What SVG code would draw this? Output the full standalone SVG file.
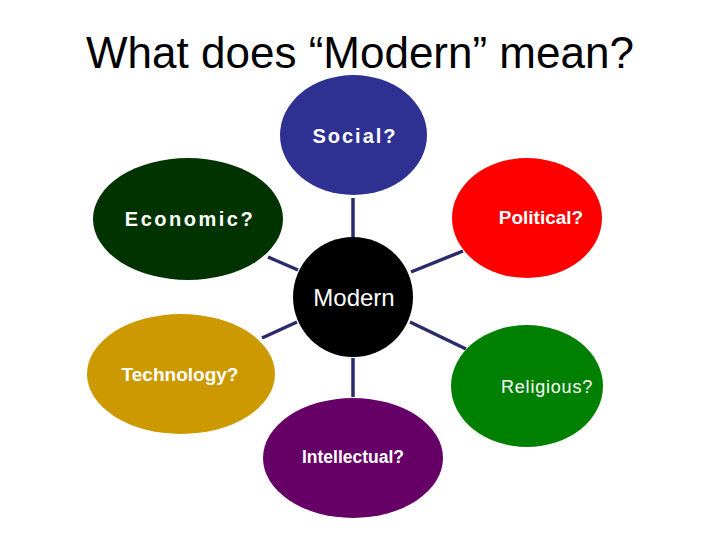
<svg xmlns="http://www.w3.org/2000/svg" width="720" height="540" viewBox="0 0 720 540">
<style>
text{font-family:"Liberation Sans",Arial,sans-serif;fill:#fff;text-anchor:middle}
.title{fill:#000;font-size:44px}
.b{font-weight:bold}
.conn line{stroke:#2B2B6B;stroke-width:3.5;stroke-linecap:butt}
</style>
<rect width="720" height="540" fill="#fff"/>
<text class="title" x="360" y="68">What does “Modern” mean?</text>
<g id="connectors" class="conn">
<line x1="353" y1="198" x2="353" y2="237"/>
<line x1="268" y1="257" x2="298" y2="270"/>
<line x1="411" y1="272" x2="463" y2="251"/>
<line x1="262" y1="338" x2="297" y2="322"/>
<line x1="410" y1="322" x2="466" y2="349"/>
<line x1="353" y1="358" x2="353" y2="397"/>
</g>
<g id="social"><ellipse cx="353.5" cy="135" rx="73.5" ry="60" fill="#2E3192"/><text class="b" x="355" y="143" font-size="20" letter-spacing="2">Social?</text></g>
<g id="economic"><ellipse cx="188" cy="219" rx="95" ry="61" fill="#003300"/><text class="b" x="190" y="226" font-size="20" letter-spacing="2.5">Economic?</text></g>
<g id="political"><ellipse cx="527" cy="218" rx="75" ry="60" fill="#FF0000"/><text class="b" x="541" y="224" font-size="19">Political?</text></g>
<g id="modern"><ellipse cx="353" cy="297" rx="60" ry="60" fill="#000"/><text x="354" y="306" font-size="24">Modern</text></g>
<g id="technology"><ellipse cx="181" cy="374" rx="94" ry="60" fill="#CC9900"/><text class="b" x="180" y="381" font-size="19">Technology?</text></g>
<g id="religious"><ellipse cx="527" cy="386" rx="76" ry="61" fill="#008000"/><text x="547" y="393" font-size="18" letter-spacing="0.8">Religious?</text></g>
<g id="intellectual"><ellipse cx="353" cy="458" rx="90" ry="60" fill="#660066"/><text class="b" x="353" y="463" font-size="17.5">Intellectual?</text></g>
</svg>
